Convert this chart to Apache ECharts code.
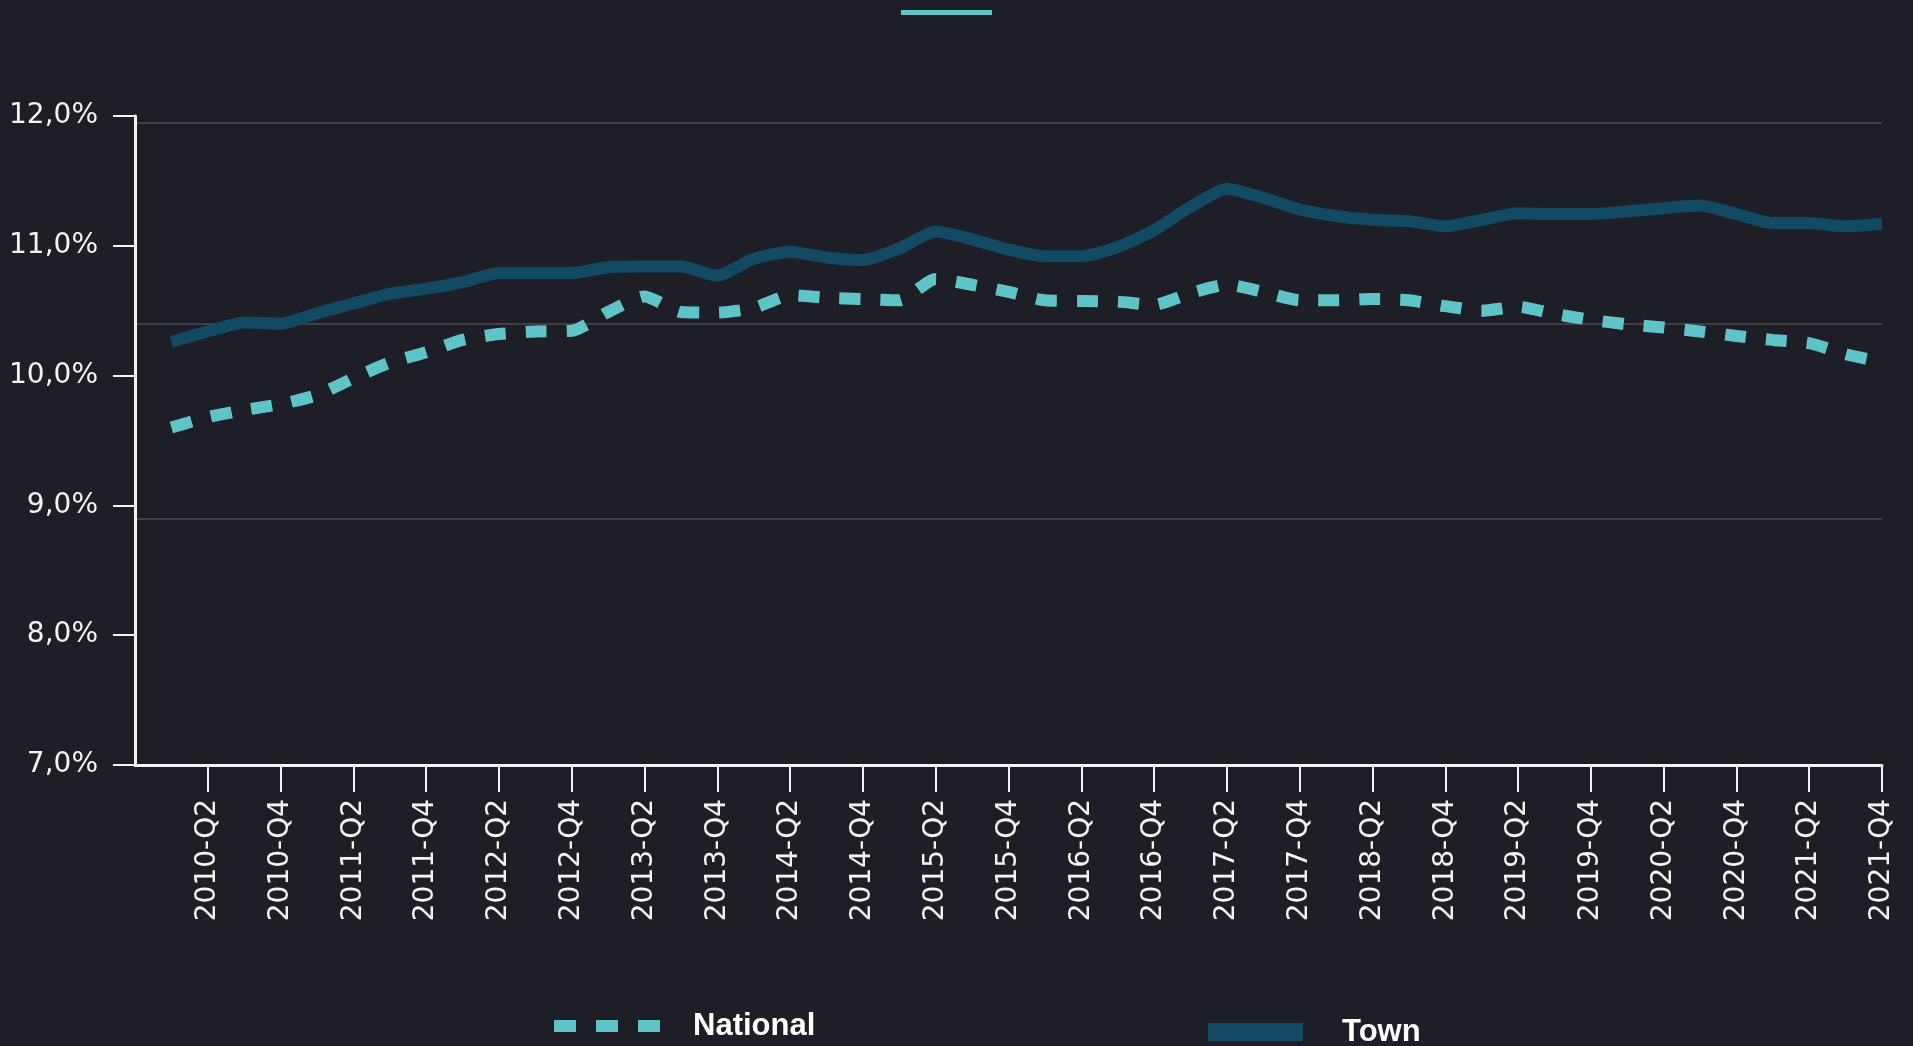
<!DOCTYPE html>
<html lang="en">
  <head>
    <meta charset="UTF-8" />
    <meta name="viewport" content="width=device-width, initial-scale=1.0" />
    <title>National vs Town</title>
    <style>
      html,
      body {
        margin: 0;
        padding: 0;
        background-color: #1e1f26;
      }
      #chart {
        width: 1913px;
        height: 1046px;
      }
    </style>
  </head>
  <body>
    <div id="chart"></div>
    <script src="https://cdn.jsdelivr.net/npm/echarts@6.0.0/dist/echarts.min.js"></script>
    <script>
      const quarters = [
        "2010-Q1", "2010-Q2", "2010-Q3", "2010-Q4",
        "2011-Q1", "2011-Q2", "2011-Q3", "2011-Q4",
        "2012-Q1", "2012-Q2", "2012-Q3", "2012-Q4",
        "2013-Q1", "2013-Q2", "2013-Q3", "2013-Q4",
        "2014-Q1", "2014-Q2", "2014-Q3", "2014-Q4",
        "2015-Q1", "2015-Q2", "2015-Q3", "2015-Q4",
        "2016-Q1", "2016-Q2", "2016-Q3", "2016-Q4",
        "2017-Q1", "2017-Q2", "2017-Q3", "2017-Q4",
        "2018-Q1", "2018-Q2", "2018-Q3", "2018-Q4",
        "2019-Q1", "2019-Q2", "2019-Q3", "2019-Q4",
        "2020-Q1", "2020-Q2", "2020-Q3", "2020-Q4",
        "2021-Q1", "2021-Q2", "2021-Q3", "2021-Q4",
      ];
      const national = [
        9.6, 9.68, 9.735, 9.78, 9.85, 9.98, 10.1, 10.18,
        10.275, 10.32, 10.34, 10.345, 10.49, 10.61, 10.49, 10.485,
        10.52, 10.62, 10.6, 10.59, 10.58, 10.745, 10.7, 10.645,
        10.58, 10.575, 10.57, 10.545, 10.635, 10.7, 10.645, 10.58,
        10.58, 10.59, 10.58, 10.535, 10.5, 10.53, 10.475, 10.43,
        10.395, 10.37, 10.34, 10.305, 10.275, 10.25, 10.165, 10.105,
      ];
      const town = [
        10.26, 10.34, 10.41, 10.4, 10.48, 10.555, 10.63, 10.67,
        10.72, 10.79, 10.79, 10.79, 10.835, 10.84, 10.84, 10.77,
        10.9, 10.955, 10.91, 10.89, 10.98, 11.11, 11.05, 10.97,
        10.92, 10.92, 10.99, 11.12, 11.3, 11.44, 11.37, 11.28,
        11.23, 11.2, 11.19, 11.15, 11.2, 11.25, 11.245, 11.245,
        11.265, 11.29, 11.31, 11.245, 11.175, 11.175, 11.15, 11.17,
      ];
      // horizontal guide lines (they don't sit on the labelled ticks)
      const gridValues = [11.95, 10.4, 8.9];

      // a blank first slot keeps 2010-Q1 off the y axis
      const xCats = [""].concat(quarters);
      const showEvery2 = (i) => i > 0 && i % 2 === 0;

      const white = "#f4f4f4";
      const legendText = {
        color: "#ffffff",
        fontFamily: "Liberation Sans",
        fontWeight: "bold",
        fontSize: 31,
        lineHeight: 32,
      };

      const myChart = echarts.init(document.getElementById("chart"));
      const option = {
        backgroundColor: "#1e1f26",
        animation: false,
        grid: {
          left: 135,
          right: 31,
          top: 116,
          bottom: 281,
          containLabel: false,
          outerBoundsMode: "none",
        },
        graphic: [
          {
            type: "rect",
            left: 901,
            top: 10,
            shape: { width: 91, height: 5 },
            style: { fill: "#5fc4c8" },
          },
        ],
        legend: [
          {
            data: [
              {
                name: "National",
                icon: "path://M0,0h22v12h-22zM42,0h22v12h-22zM84,0h22v12h-22z",
              },
            ],
            left: 554,
            top: 1010,
            padding: 0,
            itemWidth: 106,
            itemHeight: 12,
            selectedMode: false,
            itemStyle: { borderWidth: 0 },
            textStyle: Object.assign({}, legendText, { padding: [0, 0, 0, 28] }),
          },
          {
            data: [{ name: "Town", icon: "rect" }],
            left: 1208,
            top: 1016,
            padding: 0,
            itemWidth: 95,
            itemHeight: 18,
            selectedMode: false,
            itemStyle: { borderWidth: 0 },
            textStyle: Object.assign({}, legendText, { padding: [0, 0, 0, 34] }),
          },
        ],
        xAxis: {
          type: "category",
          data: xCats,
          boundaryGap: false,
          axisLine: { show: true, lineStyle: { color: white, width: 3 } },
          axisTick: {
            show: true,
            interval: showEvery2,
            length: 27,
            lineStyle: { color: white, width: 2 },
          },
          axisLabel: {
            interval: showEvery2,
            rotate: 90,
            margin: 34,
            color: white,
            fontFamily: "DejaVu Sans",
            fontSize: 28,
          },
          splitLine: { show: false },
        },
        yAxis: [
          {
            type: "value",
            min: 7,
            max: 12,
            interval: 1,
            axisLine: { show: true, lineStyle: { color: white, width: 3 } },
            axisTick: {
              show: true,
              length: 22,
              lineStyle: { color: white, width: 2 },
            },
            axisLabel: {
              margin: 37,
              color: white,
              fontFamily: "DejaVu Sans",
              fontSize: 28,
              padding: [0, 0, 6, 0],
              formatter: (v) => v.toFixed(1).replace(".", ",") + "%",
            },
            splitLine: { show: false },
          },
          {
            type: "value",
            min: 7,
            max: 12,
            position: "right",
            axisLine: { show: false },
            axisLabel: { show: false },
            axisTick: { show: false, customValues: gridValues },
            splitLine: {
              show: true,
              lineStyle: { color: "#4c4c4f", width: 1.5 },
            },
          },
        ],
        series: [
          {
            name: "National",
            type: "line",
            data: [null].concat(national),
            symbol: "none",
            smooth: 0.2,
            itemStyle: { color: "#5fc4c8" },
            lineStyle: {
              color: "#5fc4c8",
              width: 12,
              type: [21, 20],
              cap: "butt",
            },
          },
          {
            name: "Town",
            type: "line",
            data: [null].concat(town),
            symbol: "none",
            smooth: 0.2,
            itemStyle: { color: "#134a63" },
            lineStyle: { color: "#134a63", width: 12 },
          },
        ],
      };
      myChart.setOption(option);
    </script>
  </body>
</html>
